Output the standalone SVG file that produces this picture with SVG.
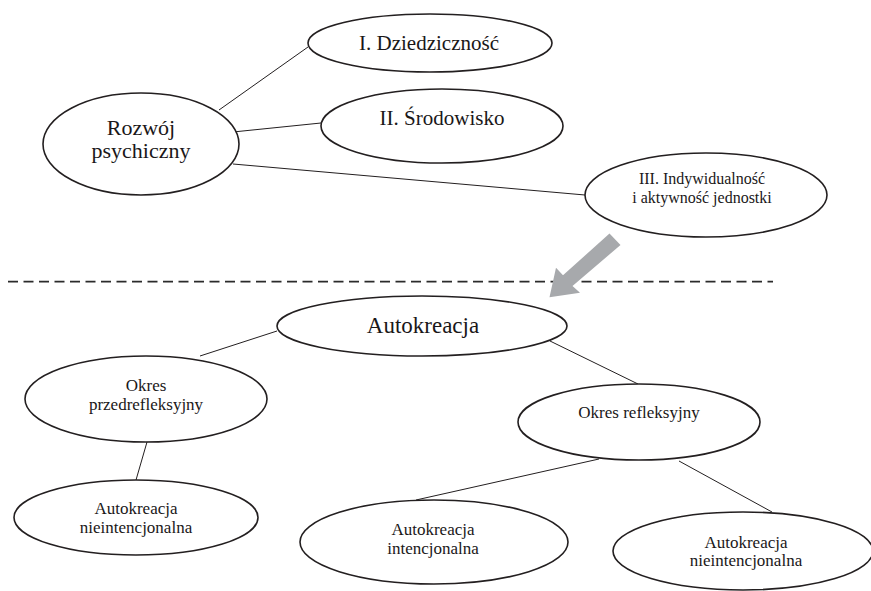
<svg xmlns="http://www.w3.org/2000/svg" width="871" height="591" viewBox="0 0 871 591">
  <style>
    .node ellipse { fill: #ffffff; stroke: #231f20; stroke-width: 1.6; }
    .node text { font-family: 'Liberation Serif', 'Times New Roman', Times, 'DejaVu Serif', serif; fill: #1a1718; text-anchor: middle; }
    .edge { stroke: #231f20; stroke-width: 1; fill: none; }
    .t21 { font-size: 21px; }
    .t22 { font-size: 22px; }
    .t23 { font-size: 23px; }
    .t17 { font-size: 17px; }
    .t16 { font-size: 16px; }
  </style>
  <rect x="0" y="0" width="871" height="591" fill="#ffffff"/>

  <!-- connectors -->
  <g id="connectors">
    <line class="edge" x1="219" y1="110" x2="308" y2="47"/>
    <line class="edge" x1="233" y1="132" x2="321" y2="123"/>
    <line class="edge" x1="233" y1="164" x2="585" y2="195"/>
    <line class="edge" x1="277" y1="331" x2="200" y2="356"/>
    <line class="edge" x1="550" y1="341" x2="638" y2="384"/>
    <line class="edge" x1="147" y1="442" x2="136" y2="480"/>
    <line class="edge" x1="599" y1="459" x2="416" y2="500"/>
    <line class="edge" x1="679" y1="461" x2="772" y2="512"/>
  </g>

  <!-- separator between the two levels -->
  <line id="separator" x1="8" y1="281.7" x2="773" y2="281.7" stroke="#2b2b2b" stroke-width="1.8" stroke-dasharray="10 5.5"/>

  <!-- transition arrow -->
  <polygon id="transition-arrow" fill="#a7a9ac" points="609.5,233.5 620.5,245 572.5,286 580,292.7 549.5,297.3 556,267.7 563,275.3"/>

  <g id="rozwoj" class="node">
    <ellipse cx="141" cy="144" rx="98" ry="51"/>
    <text class="t22" x="141" y="135">Rozwój</text>
    <text class="t22" x="141" y="158">psychiczny</text>
  </g>

  <g id="dziedzicznosc" class="node">
    <ellipse cx="430" cy="43" rx="122" ry="29"/>
    <text class="t21" x="429" y="50">I. Dziedziczność</text>
  </g>

  <g id="srodowisko" class="node">
    <ellipse cx="442" cy="126" rx="121" ry="37"/>
    <text class="t21" x="442" y="125">II. Środowisko</text>
  </g>

  <g id="indywidualnosc" class="node">
    <ellipse cx="706" cy="195" rx="121" ry="42"/>
    <text class="t16" x="702" y="184">III. Indywidualność</text>
    <text class="t16" x="702" y="203">i aktywność jednostki</text>
  </g>

  <g id="autokreacja" class="node">
    <ellipse cx="422" cy="326" rx="145" ry="30"/>
    <text class="t23" x="423" y="333">Autokreacja</text>
  </g>

  <g id="okres-przedrefleksyjny" class="node">
    <ellipse cx="146" cy="399" rx="121" ry="43"/>
    <text class="t17" x="146" y="391">Okres</text>
    <text class="t17" x="146" y="410">przedrefleksyjny</text>
  </g>

  <g id="okres-refleksyjny" class="node">
    <ellipse cx="639" cy="422" rx="121" ry="38"/>
    <text class="t17" x="639" y="418">Okres refleksyjny</text>
  </g>

  <g id="nieintencjonalna-1" class="node">
    <ellipse cx="136" cy="517.5" rx="122" ry="37.5"/>
    <text class="t17" x="136" y="514">Autokreacja</text>
    <text class="t17" x="136" y="533">nieintencjonalna</text>
  </g>

  <g id="intencjonalna" class="node">
    <ellipse cx="434" cy="542" rx="134" ry="42"/>
    <text class="t17" x="433" y="535">Autokreacja</text>
    <text class="t17" x="433" y="554">intencjonalna</text>
  </g>

  <g id="nieintencjonalna-2" class="node">
    <ellipse cx="743" cy="551" rx="130" ry="39"/>
    <text class="t17" x="746" y="548">Autokreacja</text>
    <text class="t17" x="746" y="566">nieintencjonalna</text>
  </g>
</svg>
